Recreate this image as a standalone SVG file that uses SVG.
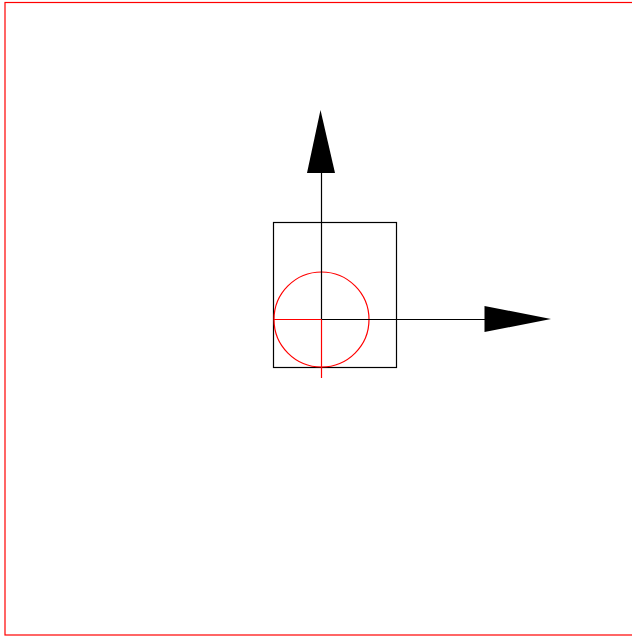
<svg xmlns="http://www.w3.org/2000/svg" width="632" height="637" viewBox="0 0 632 637">
<style>
.frame{fill:none;stroke:#ff0000;stroke-width:1.2}
.box{fill:none;stroke:#000;stroke-width:1.2}
.axis{stroke:#000;stroke-width:1.2;fill:none}
.red{stroke:#ff0000;stroke-width:1.2;fill:none}
.head{fill:#000;stroke:none}
</style>
<rect class="frame" x="5" y="2.5" width="630" height="632.5"/>
<g id="body">
<rect class="box" x="273.5" y="222.5" width="123" height="145"/>
<circle class="red" cx="321.5" cy="319.5" r="47.5"/>
</g>
<g id="connectors">
<line class="axis" x1="321.5" y1="172" x2="321.5" y2="319.5"/>
<line class="axis" x1="321.5" y1="319.5" x2="485" y2="319.5"/>
<polygon class="head" points="320.5,110 307,173 335,173"/>
<polygon class="head" points="551,319 484.5,306 484.5,332"/>
<line class="red" x1="274" y1="319.5" x2="321.5" y2="319.5"/>
<line class="red" x1="321.5" y1="319.5" x2="321.5" y2="378"/>
</g>
</svg>
